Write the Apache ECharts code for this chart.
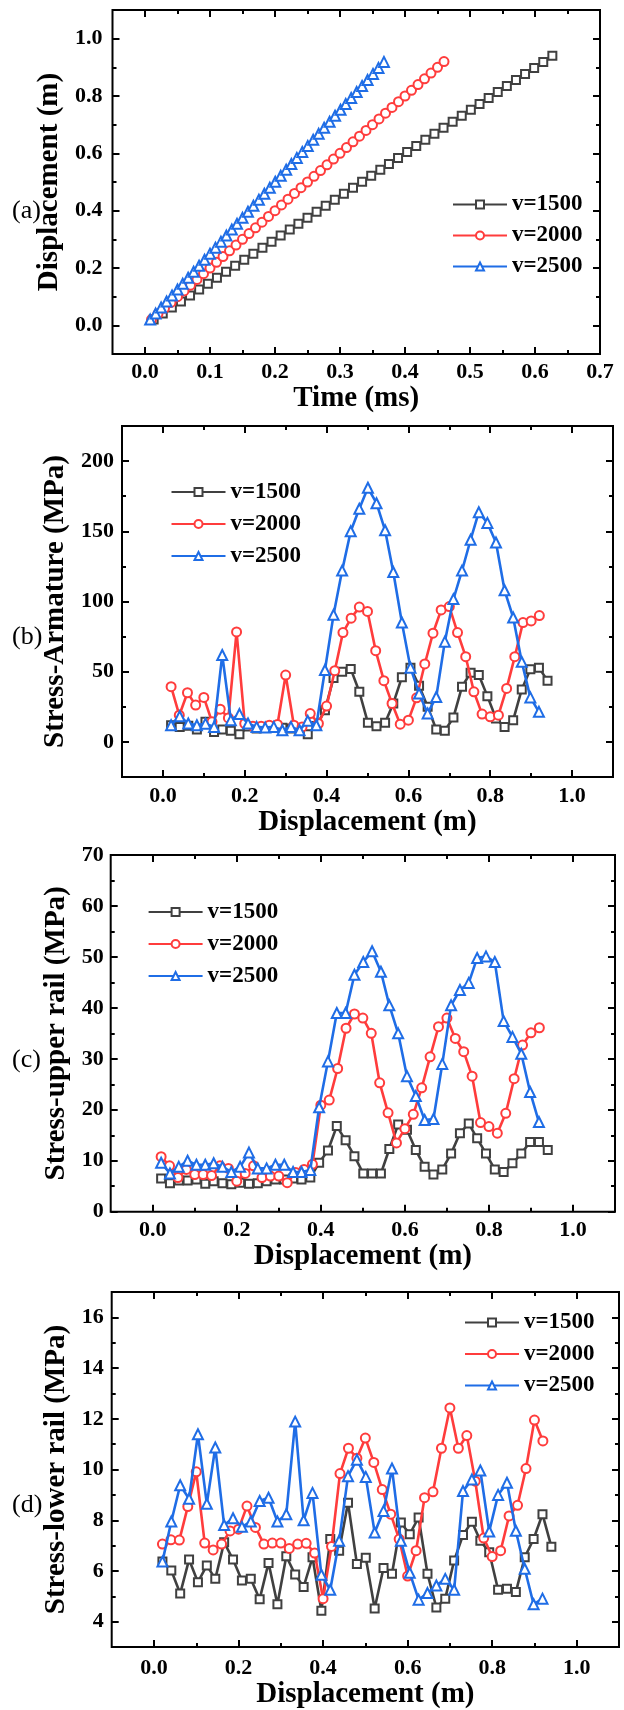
<!DOCTYPE html>
<html><head><meta charset="utf-8">
<script src="https://cdn.jsdelivr.net/npm/echarts@6/dist/echarts.min.js"></script>
<style>html,body{margin:0;padding:0;background:#fff}#c{width:624px;height:1710px}</style>
</head><body><div id="c"></div>
<script>
// ---------------- DATA ----------------
const seriesNames = ['v=1500', 'v=2000', 'v=2500'];

// armature displacement samples (m) for each velocity
const dispV1500 = [0.020,0.041,0.062,0.083,0.104,0.125,0.145,0.166,0.187,0.208,0.229,0.250,0.271,0.292,0.313,0.334,0.354,0.375,0.396,0.417,0.438,0.459,0.480,0.501,0.522,0.543,0.563,0.584,0.605,0.626,0.647,0.668,0.689,0.710,0.731,0.752,0.772,0.793,0.814,0.835,0.856,0.877,0.898,0.919,0.940];
const dispV2000 = [0.02,0.04,0.06,0.08,0.10,0.12,0.14,0.16,0.18,0.20,0.22,0.24,0.26,0.28,0.30,0.32,0.34,0.36,0.38,0.40,0.42,0.44,0.46,0.48,0.50,0.52,0.54,0.56,0.58,0.60,0.62,0.64,0.66,0.68,0.70,0.72,0.74,0.76,0.78,0.80,0.82,0.84,0.86,0.88,0.90,0.92];
const dispV2500 = [0.020,0.041,0.062,0.083,0.104,0.125,0.145,0.166,0.187,0.208,0.229,0.250,0.271,0.292,0.313,0.334,0.354,0.375,0.396,0.417,0.438,0.459,0.480,0.501,0.522,0.543,0.563,0.584,0.605,0.626,0.647,0.668,0.689,0.710,0.731,0.752,0.772,0.793,0.814,0.835,0.856,0.877,0.898,0.919];

// time (ms) of each sample, panel (a)
const timeV1500 = [0.0133,0.0273,0.0413,0.0553,0.0693,0.0833,0.0967,0.1107,0.1247,0.1387,0.1527,0.1667,0.1807,0.1947,0.2087,0.2227,0.2360,0.2500,0.2640,0.2780,0.2920,0.3060,0.3200,0.3340,0.3480,0.3620,0.3753,0.3893,0.4033,0.4173,0.4313,0.4453,0.4593,0.4733,0.4873,0.5013,0.5147,0.5287,0.5427,0.5567,0.5707,0.5847,0.5987,0.6127,0.6267];
const timeV2000 = [0.01,0.02,0.03,0.04,0.05,0.06,0.07,0.08,0.09,0.10,0.11,0.12,0.13,0.14,0.15,0.16,0.17,0.18,0.19,0.20,0.21,0.22,0.23,0.24,0.25,0.26,0.27,0.28,0.29,0.30,0.31,0.32,0.33,0.34,0.35,0.36,0.37,0.38,0.39,0.40,0.41,0.42,0.43,0.44,0.45,0.46];
const timeV2500 = [0.0080,0.0164,0.0248,0.0332,0.0416,0.0500,0.0580,0.0664,0.0748,0.0832,0.0916,0.1000,0.1084,0.1168,0.1252,0.1336,0.1416,0.1500,0.1584,0.1668,0.1752,0.1836,0.1920,0.2004,0.2088,0.2172,0.2252,0.2336,0.2420,0.2504,0.2588,0.2672,0.2756,0.2840,0.2924,0.3008,0.3088,0.3172,0.3256,0.3340,0.3424,0.3508,0.3592,0.3676];

// panel (b): armature stress (MPa)
const armV1500 = [11.9,10.7,11.5,8.8,14.3,7.1,8.8,7.9,5.5,11.0,9.5,10.7,10.2,10.0,9.5,8.3,5.5,11.4,22.6,45.5,50.0,52.0,35.7,13.6,11.2,13.6,27.4,46.0,52.9,40.0,25.0,8.8,7.9,17.4,39.3,49.3,47.6,32.6,16.7,10.7,15.5,37.4,51.7,52.9,43.6];
const armV2000 = [39.3,19.0,35.0,26.2,31.7,14.3,23.3,17.1,78.3,13.1,11.2,11.2,11.9,12.4,47.6,11.9,10.7,20.2,13.1,25.5,50.7,77.9,88.1,96.0,92.9,65.0,43.6,27.4,12.6,15.5,31.4,55.5,77.4,94.0,96.4,77.9,60.7,35.7,19.8,17.9,19.0,38.1,60.7,85.0,86.2,90.0];
const armV2500 = [11.9,18.3,13.1,11.9,13.0,10.7,61.9,15.5,19.8,13.1,10.7,10.2,10.7,8.3,10.7,8.3,15.0,11.9,51.2,90.5,122.0,150.0,166.0,181.0,170.0,150.7,121.0,85.0,52.9,34.5,20.3,32.0,71.4,101.7,122.0,144.0,163.6,156.0,142.0,108.0,88.6,57.0,31.7,21.4];

// panel (c): upper rail stress (MPa)
const upperV1500 = [6.5,5.6,6.1,6.1,6.3,5.5,6.0,5.6,5.4,5.7,5.5,5.6,6.0,6.3,6.3,6.5,6.3,6.7,9.6,12.0,16.8,14.0,10.9,7.5,7.5,7.5,12.3,17.1,16.1,12.1,8.8,7.3,8.3,11.4,15.4,17.3,14.4,11.4,8.3,7.8,9.5,11.4,13.7,13.7,12.1];
const upperV2000 = [10.8,9.0,6.7,8.3,7.3,7.3,7.1,9.0,8.5,6.0,7.5,9.0,6.7,7.0,7.0,5.7,7.7,8.3,9.3,20.9,21.9,28.1,36.0,38.8,38.0,35.0,25.3,19.4,13.5,16.3,19.1,24.3,30.4,36.3,38.0,34.0,31.4,26.6,17.5,16.7,15.4,19.3,26.1,32.7,35.1,36.1];
const upperV2500 = [9.6,7.5,8.8,10.0,9.2,9.2,9.5,8.8,7.8,8.8,11.6,8.5,8.5,9.2,9.2,7.8,7.8,8.2,20.5,29.5,39.0,39.0,46.5,49.0,51.1,47.1,40.5,35.0,26.6,22.7,18.0,18.2,29.0,40.5,43.5,44.9,49.8,50.1,49.0,37.4,34.3,31.0,23.5,17.6];

// panel (d): lower rail stress (MPa)
const lowerV1500 = [6.37,6.02,5.11,6.45,5.56,6.22,5.69,7.13,6.45,5.63,5.69,4.89,6.32,4.69,6.58,5.86,5.37,6.54,4.43,7.26,6.80,8.69,6.28,6.52,4.52,6.12,5.89,7.91,7.45,8.11,5.89,4.56,4.91,6.41,7.42,7.94,7.19,6.74,5.26,5.30,5.17,6.54,7.26,8.24,6.96];
const lowerV2000 = [7.06,7.23,7.22,8.54,9.91,7.10,6.83,7.06,7.58,7.65,8.56,7.72,7.06,7.10,7.10,6.89,7.06,7.09,6.71,4.91,6.97,9.84,10.84,10.45,11.24,10.28,9.21,8.24,7.26,5.80,6.80,8.89,9.12,10.84,12.43,10.84,11.34,9.54,7.30,6.57,6.80,8.17,8.59,10.04,11.95,11.13];
const lowerV2500 = [6.37,7.95,9.38,8.85,11.39,8.65,10.87,7.81,8.08,7.74,7.95,8.76,8.89,7.95,8.24,11.89,8.00,9.08,5.85,5.26,7.19,9.74,10.39,9.71,7.52,8.37,10.04,7.19,5.93,4.87,5.13,5.43,5.69,5.26,9.15,9.61,9.96,7.56,9.00,9.48,7.59,6.09,4.69,4.91];

// tick values
const xTicksA = [0,0.1,0.2,0.3,0.4,0.5,0.6,0.7];
const xMinorA = [0.05,0.15,0.25,0.35,0.45,0.55,0.65];
const yTicksA = [0,0.2,0.4,0.6,0.8,1.0];
const yMinorA = [0.1,0.3,0.5,0.7,0.9];
const xTicksDisp = [0,0.2,0.4,0.6,0.8,1.0];
const xMinorDisp = [0.1,0.3,0.5,0.7,0.9];
const yTicksB = [0,50,100,150,200];
const yMinorB = [25,75,125,175];
const yTicksC = [0,10,20,30,40,50,60,70];
const yMinorC = [5,15,25,35,45,55,65];
const yTicksD = [4,6,8,10,12,14,16];
const yMinorD = [5,7,9,11,13,15];

// ---------------- STYLE / LAYOUT ----------------
const FONT = '"Liberation Serif","Times New Roman",serif';
const colors = ['#404040', '#ff3c3c', '#1f6de6'];
const symbols = ['emptyRect', 'emptyCircle', 'emptyTriangle'];
const symbolSizes = [8, 9, 10];

const panels = [
  { grid: {left: 112.5, top: 10, width: 487.5, height: 344},
    x: {min: -0.05, max: 0.7, majors: xTicksA, minors: xMinorA, dec: 1, name: 'Time (ms)', nameGap: 26, margin: 7},
    y: {min: -0.1, max: 1.1, majors: yTicksA, minors: yMinorA, dec: 1, name: 'Displacement (m)', nameGap: 41, margin: 10},
    legend: {left: 452, top: 193, itemGap: 6},
    tag: {text: '(a)', x: 12, y: 211},
    data: [[timeV1500, dispV1500], [timeV2000, dispV2000], [timeV2500, dispV2500]] },
  { grid: {left: 122, top: 426, width: 491, height: 351},
    x: {min: -0.1, max: 1.1, majors: xTicksDisp, minors: xMinorDisp, dec: 1, name: 'Displacement (m)', nameGap: 26.5, margin: 8.5},
    y: {min: -25, max: 225, majors: yTicksB, minors: yMinorB, dec: 0, name: 'Stress-Armature (MPa)', nameGap: 48.5, margin: 8},
    legend: {left: 170.5, top: 480.5, itemGap: 7},
    tag: {text: '(b)', x: 12, y: 637},
    data: [[dispV1500, armV1500], [dispV2000, armV2000], [dispV2500, armV2500]] },
  { grid: {left: 110.7, top: 855, width: 504.3, height: 356.7},
    x: {min: -0.1, max: 1.1, majors: xTicksDisp, minors: xMinorDisp, dec: 1, name: 'Displacement (m)', nameGap: 27, margin: 7.3},
    y: {min: 0, max: 70, majors: yTicksC, minors: yMinorC, dec: 0, name: 'Stress-upper rail (MPa)', nameGap: 37, margin: 7},
    legend: {left: 147.6, top: 900.5, itemGap: 7},
    tag: {text: '(c)', x: 12, y: 1060},
    data: [[dispV1500, upperV1500], [dispV2000, upperV2000], [dispV2500, upperV2500]] },
  { grid: {left: 111.7, top: 1292, width: 507.3, height: 357},
    x: {min: -0.1, max: 1.1, majors: xTicksDisp, minors: xMinorDisp, dec: 1, name: 'Displacement (m)', nameGap: 29.5, margin: 10},
    y: {min: 3, max: 17, majors: yTicksD, minors: yMinorD, dec: 0, name: 'Stress-lower rail (MPa)', nameGap: 38, margin: 8},
    legend: {left: 464, top: 1311, itemGap: 6.5},
    tag: {text: '(d)', x: 12, y: 1505},
    data: [[dispV1500, lowerV1500], [dispV2000, lowerV2000], [dispV2500, lowerV2500]] }
];

const labelStyle = {fontFamily: FONT, fontWeight: 'bold', fontSize: 22, color: '#000'};
const nameStyle = {fontFamily: FONT, fontWeight: 'bold', fontSize: 29, color: '#000'};

function makeAxes(gi, c, isX) {
  const pos = isX ? ['bottom', 'top'] : ['left', 'right'];
  const base = {
    type: 'value', gridIndex: gi, min: c.min, max: c.max, scale: true,
    axisLine: {show: false, onZero: false}, splitLine: {show: false},
    axisPointer: {show: false}, silent: true
  };
  const tick = (vals, len) => ({show: true, inside: true, length: len, customValues: vals,
                                lineStyle: {color: '#000', width: 2}});
  return [
    Object.assign({}, base, {
      position: pos[0], axisTick: tick(c.majors, 7),
      axisLabel: Object.assign({show: true, customValues: c.majors, margin: c.margin,
                                formatter: v => Number(v).toFixed(c.dec)}, labelStyle),
      name: c.name, nameLocation: 'middle', nameGap: c.nameGap, nameTextStyle: nameStyle
    }),
    Object.assign({}, base, {position: pos[0], axisTick: tick(c.minors, 4), axisLabel: {show: false}}),
    Object.assign({}, base, {position: pos[1], axisTick: tick(c.majors, 7), axisLabel: {show: false}}),
    Object.assign({}, base, {position: pos[1], axisTick: tick(c.minors, 4), axisLabel: {show: false}})
  ];
}

const grid = [], xAxis = [], yAxis = [], series = [], legend = [], graphic = [];
panels.forEach((p, gi) => {
  grid.push(Object.assign({show: true, borderColor: '#000', borderWidth: 2, backgroundColor: 'transparent'}, p.grid));
  xAxis.push(...makeAxes(gi, p.x, true));
  yAxis.push(...makeAxes(gi, p.y, false));
  p.data.forEach((d, si) => {
    series.push({
      type: 'line', name: seriesNames[si], xAxisIndex: gi * 4, yAxisIndex: gi * 4,
      data: d[0].map((xv, i) => [xv, d[1][i]]),
      symbol: symbols[si], symbolSize: symbolSizes[si], showAllSymbol: true,
      lineStyle: {color: colors[si], width: 2.6},
      itemStyle: {color: colors[si], borderColor: colors[si], borderWidth: 1.4},
      emphasis: {disabled: true}, z: 3 + si
    });
  });
  legend.push({
    data: seriesNames, orient: 'vertical', left: p.legend.left, top: p.legend.top,
    itemWidth: 54, itemHeight: 10, itemGap: p.legend.itemGap + 2, padding: 0, selectedMode: false,
    textStyle: {fontFamily: FONT, fontWeight: 'bold', fontSize: 23, lineHeight: 23, color: '#000'}
  });
  graphic.push({type: 'text', x: p.tag.x, y: p.tag.y,
    style: {text: p.tag.text, fontFamily: FONT, fontSize: 26, fill: '#000', verticalAlign: 'middle'}});
});

const chart = echarts.init(document.getElementById('c'), null, {renderer: 'canvas'});
chart.setOption({animation: false, backgroundColor: '#fff', grid, xAxis, yAxis, series, legend, graphic, tooltip: {show: false}});
</script></body></html>
